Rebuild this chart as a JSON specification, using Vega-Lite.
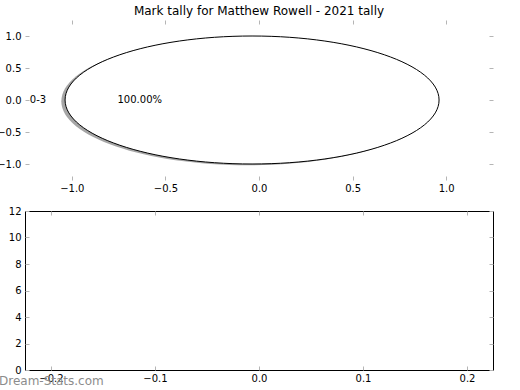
{
  "$schema": "https://vega.github.io/schema/vega-lite/v6.json",
  "background": "white",
  "padding": {"left": -4, "top": 4, "right": 0, "bottom": 0},
  "title": {"text": "Mark tally for Matthew Rowell - 2021 tally", "font": "DejaVu Sans", "fontSize": 12, "fontWeight": "normal", "color": "black", "anchor": "middle", "frame": "group", "offset": 2},
  "spacing": 31,
  "bounds": "flush",
  "config": {
    "font": "DejaVu Sans",
    "view": {"stroke": null},
    "axis": {"labelFont": "DejaVu Sans", "labelFontSize": 10, "labelColor": "black", "tickColor": "#b5b5b5", "tickSize": -4, "tickWidth": 1, "domain": false, "grid": false, "labelPadding": 8, "title": null, "labelFlush": false, "labelOverlap": false}
  },
  "vconcat": [
    {
      "width": 468,
      "height": 160,
      "data": {"values": [{"range": "0-3", "pct": "100.00%"}]},
      "layer": [
        {
          "mark": {"type": "point", "shape": "M 1 0 C 1 0.189 0.5523 0.3422 0 0.3422 C -0.5523 0.3422 -1 0.189 -1 0 C -1 -0.189 -0.5523 -0.3422 0 -0.3422 C 0.5523 -0.3422 1 -0.189 1 0 Z", "filled": true, "fill": "#4d4d4d", "opacity": 0.5, "strokeWidth": 0, "size": 139876},
          "encoding": {
            "x": {"datum": -0.057, "type": "quantitative", "scale": {"domain": [-1.25, 1.25], "nice": false, "zero": false}, "axis": {"orient": "bottom", "values": [-1, -0.5, 0, 0.5, 1], "format": ".1f", "labelPadding": 7}},
            "y": {"datum": -0.02, "type": "quantitative", "scale": {"domain": [-1.25, 1.25], "nice": false, "zero": false}, "axis": {"orient": "left", "values": [-1, -0.5, 0, 0.5, 1], "format": ".1f"}}
          }
        },
        {
          "mark": {"type": "point", "shape": "M 1 0 C 1 0.189 0.5523 0.3422 0 0.3422 C -0.5523 0.3422 -1 0.189 -1 0 C -1 -0.189 -0.5523 -0.3422 0 -0.3422 C 0.5523 -0.3422 1 -0.189 1 0 Z", "filled": true, "fill": "white", "stroke": "black", "strokeWidth": 1, "opacity": 1, "size": 139876},
          "encoding": {
            "x": {"datum": -0.037, "type": "quantitative", "scale": {"domain": [-1.25, 1.25], "nice": false, "zero": false}, "axis": {"orient": "top", "values": [-1, -0.5, 0, 0.5, 1], "labels": false}},
            "y": {"datum": 0, "type": "quantitative", "scale": {"domain": [-1.25, 1.25], "nice": false, "zero": false}, "axis": {"orient": "right", "values": [-1, -0.5, 0, 0.5, 1], "labels": false}}
          }
        },
        {
          "mark": {"type": "text", "align": "right", "baseline": "middle", "fontSize": 10, "color": "black"},
          "encoding": {
            "x": {"datum": -1.137, "type": "quantitative", "axis": null},
            "y": {"datum": 0, "type": "quantitative", "axis": null},
            "text": {"field": "range"}
          }
        },
        {
          "mark": {"type": "text", "align": "center", "baseline": "middle", "fontSize": 10, "color": "black"},
          "encoding": {
            "x": {"datum": -0.637, "type": "quantitative", "axis": null},
            "y": {"datum": 0, "type": "quantitative", "axis": null},
            "text": {"field": "pct"}
          }
        }
      ],
      "resolve": {"axis": {"x": "independent", "y": "independent"}}
    },
    {
      "width": 468,
      "height": 159,
      "view": {"stroke": "black", "strokeWidth": 1},
      "layer": [
        {
          "data": {"values": [{"site": "Dream-Stats.com"}]},
          "mark": {"type": "text", "align": "left", "baseline": "alphabetic", "dx": -26, "dy": 15, "fontSize": 12, "color": "#8c8c8c"},
          "encoding": {
            "x": {"datum": -0.225, "type": "quantitative", "scale": {"domain": [-0.225, 0.225], "nice": false, "zero": false}, "axis": {"orient": "bottom", "values": [-0.2, -0.1, 0, 0.1, 0.2], "format": ".1f", "labelPadding": 7}},
            "y": {"datum": 0, "type": "quantitative", "scale": {"domain": [0, 12], "nice": false}, "axis": {"orient": "left", "values": [0, 2, 4, 6, 8, 10, 12], "format": "d"}},
            "text": {"field": "site"}
          }
        },
        {
          "data": {"values": []},
          "mark": {"type": "point", "opacity": 0},
          "encoding": {
            "x": {"datum": 0, "type": "quantitative", "scale": {"domain": [-0.225, 0.225], "nice": false, "zero": false}, "axis": {"orient": "top", "values": [-0.2, -0.1, 0, 0.1, 0.2], "labels": false}},
            "y": {"datum": 0, "type": "quantitative", "scale": {"domain": [0, 12], "nice": false}, "axis": {"orient": "right", "values": [0, 2, 4, 6, 8, 10, 12], "labels": false}}
          }
        }
      ],
      "resolve": {"axis": {"x": "independent", "y": "independent"}}
    }
  ]
}
